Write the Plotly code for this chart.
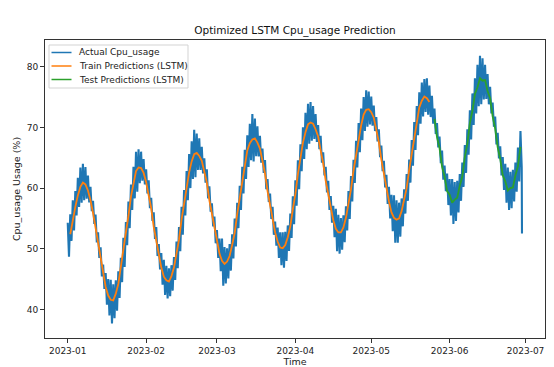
import pandas as pd
import plotly.graph_objects as go

# ---- data (day offsets from 2023-01-01) ----
actual_center = [
    51.5, 53.5, 55.5, 57.5, 59.3, 60.5, 61.0, 60.85, 59.85, 58.2,
    56.0, 53.35, 50.6, 47.85, 45.4, 43.4, 42.0, 41.3, 41.35, 42.3,
    44.1, 46.5, 49.4, 52.5, 55.6, 58.5, 60.9, 62.7, 63.6, 63.6,
    62.7, 61.1, 59.0, 56.5, 53.8, 51.2, 48.7, 46.7, 45.3, 44.5,
    44.5, 45.2, 46.75, 49.0, 51.6, 54.6, 57.6, 60.4, 62.8, 64.6,
    65.7, 66.0, 65.6, 64.6, 62.9, 60.7, 58.2, 55.6, 53.1, 50.8,
    49.0, 47.8, 47.3, 47.6, 48.6, 50.4, 52.7, 55.5, 58.4, 61.3,
    63.9, 66.1, 67.6, 68.3, 68.35, 67.7, 66.4, 64.5, 62.2, 59.6,
    57.0, 54.6, 52.5, 51.0, 50.0, 49.8, 50.4, 51.75, 53.8, 56.35,
    59.2, 62.2, 65.0, 67.4, 69.4, 70.6, 71.0, 70.8, 69.9, 68.4,
    66.4, 64.0, 61.4, 58.8, 56.5, 54.5, 53.1, 52.4, 52.45, 53.3,
    55.0, 57.2, 59.9, 62.75, 65.6, 68.3, 70.5, 72.2, 73.1, 73.2,
    72.7, 71.5, 69.7, 67.4, 64.9, 62.3, 59.8, 57.6, 55.9, 54.9,
    54.5, 54.8, 56.0, 57.8, 60.1, 62.8, 65.8, 68.6, 71.1, 73.2,
    74.6, 75.25, 75.1, 74.3, 72.9, 71.0, 68.7, 66.3, 63.8, 61.6,
    59.8, 58.5, 57.8, 57.8, 58.6, 60.1, 62.2, 64.8, 67.6, 70.4,
    73.0, 75.2, 76.9, 77.8, 78.0, 77.5, 76.3, 74.5, 72.1, 69.5,
    67.0, 64.5, 62.4, 60.8, 59.9, 59.7, 60.4, 61.8, 63.9, 66.4,
]
# half-width of the noisy blue band, per day
actual_spread = [
    2.8, 2.2, 2.5, 2.0, 2.4, 2.9, 3.0, 2.6, 2.2, 2.0,
    1.9, 2.3, 2.1, 2.4, 2.0, 2.6, 3.0, 3.6, 2.8, 2.5,
    2.2, 2.0, 2.4, 1.9, 2.2, 2.1, 2.6, 3.3, 2.8, 2.4,
    2.1, 2.0, 2.3, 1.9, 2.2, 2.4, 2.1, 2.6, 2.9, 2.7,
    2.3, 2.1, 1.9, 2.2, 2.0, 2.3, 2.1, 2.4, 2.8, 3.1,
    3.9, 3.0, 2.6, 2.2, 2.0, 2.4, 2.1, 1.9, 2.2, 2.3,
    2.7, 3.9, 3.0, 2.5, 2.2, 2.0, 2.3, 2.1, 2.0, 2.2,
    2.4, 2.6, 3.0, 3.9, 3.1, 2.5, 2.2, 2.0, 2.4, 1.9,
    2.1, 2.3, 2.0, 2.5, 2.7, 2.9, 2.4, 2.1, 2.0, 2.3,
    2.1, 2.4, 2.2, 2.6, 3.0, 3.3, 3.2, 2.7, 2.3, 2.0,
    2.2, 1.9, 2.1, 2.4, 2.2, 2.6, 3.5, 3.2, 2.6, 2.2,
    2.0, 2.3, 2.1, 1.9, 2.2, 2.4, 2.6, 2.8, 3.0, 2.7,
    2.4, 2.1, 2.0, 2.3, 2.1, 2.2, 2.4, 2.6, 3.0, 3.9,
    3.5, 2.8, 2.3, 2.0, 2.2, 1.9, 2.1, 2.3, 2.4, 2.6,
    2.8, 2.7, 3.0, 2.6, 2.3, 2.1, 2.0, 2.2, 2.4, 2.1,
    2.6, 3.0, 3.7, 3.2, 2.6, 2.2, 2.0, 2.3, 2.1, 2.4,
    2.6, 2.9, 3.4, 4.0, 3.4, 2.8, 2.5, 2.2, 2.0, 2.3,
    2.1, 2.4, 2.7, 3.2, 3.5, 3.0, 2.6, 2.4, 2.8, 3.0,
]
actual_last_day = 179.6
actual_last_value = 52.5

train_start_day = 1
train_pred = [
    52.4, 54.8, 56.9, 58.8, 60.2, 60.9, 60.6, 59.6, 58.0,
    55.9, 53.5, 50.7, 48.1, 45.6, 43.7, 42.3, 41.6, 41.5, 42.6,
    44.2, 46.8, 49.5, 52.7, 55.4, 58.6, 60.7, 62.8, 63.4, 63.3,
    62.5, 61.0, 58.8, 56.7, 53.6, 51.4, 48.9, 46.9, 45.4, 44.8,
    44.6, 45.5, 46.9, 49.2, 51.5, 54.8, 57.4, 60.5, 62.6, 64.4,
    65.6, 65.8, 65.3, 64.5, 62.7, 60.9, 58.0, 55.8, 53.0, 51.1,
    49.2, 48.0, 47.5, 47.9, 48.8, 50.6, 52.6, 55.7, 58.2, 61.4,
    63.7, 66.2, 67.4, 68.0, 68.2, 67.5, 66.5, 64.3, 62.4, 59.5,
    57.2, 54.5, 52.7, 51.2, 50.2, 50.1, 50.6, 51.9, 53.7, 56.5,
    59.0, 62.3, 64.8, 67.5, 69.2, 70.5, 70.8, 70.6, 69.7, 68.5,
    66.2, 64.1, 61.2, 59.0, 56.4, 54.7, 53.3, 52.7, 52.7, 53.5,
    55.1, 57.4, 59.8, 62.9, 65.4, 68.4, 70.3, 72.1, 72.9, 73.0,
    72.5, 71.6, 69.5, 67.6, 64.7, 62.5, 59.7, 57.8, 56.0, 55.1,
    54.8, 55.0, 56.2, 57.9, 60.0, 63.0, 65.6, 68.7, 70.9, 73.3,
    74.4, 75.1, 74.8, 74.2,
]

test_start_day = 145
test_pred = [
    71.4, 68.4, 66.6, 63.5, 61.9,
    59.5, 58.9, 57.6, 58.1, 58.4, 60.4, 61.9, 65.1, 67.3, 70.7,
    72.7, 75.5, 76.6, 78.1, 77.7, 77.8, 76.0, 74.8, 71.8, 69.8,
    66.7, 64.8, 62.1, 61.1, 59.6, 60.0, 60.1, 62.1, 63.6, 66.8,
]

x_tick_values = ["2023-01-01", "2023-02-01", "2023-03-01", "2023-04-01",
                 "2023-05-01", "2023-06-01", "2023-07-01"]
x_tick_labels = ["2023-01", "2023-02", "2023-03", "2023-04",
                 "2023-05", "2023-06", "2023-07"]
y_tick_values = [40, 50, 60, 70, 80]

# ---- build series ----
origin = pd.Timestamp("2023-01-01")


def to_time(days):
    return origin + pd.to_timedelta(days, unit="D")


# each day: the noisy band swings between its upper and lower edge
act_days, act_vals = [], []
for i, (c, s) in enumerate(zip(actual_center, actual_spread)):
    act_days += [i, i + 0.5]
    act_vals += [c + s, c - s]
act_days.append(actual_last_day)
act_vals.append(actual_last_value)

train_days = [train_start_day + i for i in range(len(train_pred))]
test_days = [test_start_day + i for i in range(len(test_pred))]

BLUE, ORANGE, GREEN = "#1f77b4", "#ff7f0e", "#2ca02c"

fig = go.Figure()
fig.add_trace(go.Scatter(x=[to_time(d) for d in act_days], y=act_vals, mode="lines",
                         name="Actual Cpu_usage", line=dict(color=BLUE, width=2.1)))
fig.add_trace(go.Scatter(x=[to_time(d) for d in train_days], y=train_pred, mode="lines",
                         name="Train Predictions (LSTM)", line=dict(color=ORANGE, width=1.8)))
fig.add_trace(go.Scatter(x=[to_time(d) for d in test_days], y=test_pred, mode="lines",
                         name="Test Predictions (LSTM)", line=dict(color=GREEN, width=1.8)))

# plot area in pixels: x 37..537, y 32..330
L, R, T, B = 37, 537, 32, 330


def px(xp):
    return (xp - L) / (R - L)


def py(yp):
    return (B - yp) / (B - T)


shapes = [dict(type="rect", xref="paper", yref="paper",
               x0=px(41), x1=px(180), y0=py(80), y1=py(37),
               line=dict(color="#d3d3d3", width=1), fillcolor="rgba(255,255,255,0.85)",
               layer="above")]
annotations = []
for name, col, yy in [("Actual Cpu_usage", BLUE, 44.5),
                      ("Train Predictions (LSTM)", ORANGE, 58),
                      ("Test Predictions (LSTM)", GREEN, 71.5)]:
    shapes.append(dict(type="line", xref="paper", yref="paper",
                       x0=px(43.5), x1=px(63.5), y0=py(yy), y1=py(yy),
                       line=dict(color=col, width=1.5), layer="above"))
    annotations.append(dict(text=name, xref="paper", yref="paper",
                            x=px(69), y=py(yy), xanchor="left", yanchor="middle",
                            showarrow=False, font=dict(size=9, color="#222")))

axis_common = dict(showline=True, linecolor="#333", linewidth=1, mirror=True,
                   ticks="outside", ticklen=4, tickcolor="#333", tickwidth=1,
                   showgrid=False, zeroline=False, automargin=False,
                   tickfont=dict(size=9, color="#222"))

fig.update_layout(
    width=554, height=367,
    margin=dict(l=L, r=554 - R, t=T, b=367 - B),
    paper_bgcolor="white", plot_bgcolor="white",
    font=dict(family="DejaVu Sans", size=9, color="#222"),
    showlegend=False,
    title=dict(text="Optimized LSTM Cpu_usage Prediction", x=0.5, xref="paper",
               y=1 - 22.5 / 367, yref="container", xanchor="center", yanchor="middle",
               font=dict(size=10.5, color="#111")),
    xaxis=dict(type="date", range=["2022-12-23 00:20", "2023-07-08 16:50"],
               tickmode="array", tickvals=x_tick_values, ticktext=x_tick_labels,
               title=dict(text="Time", standoff=3, font=dict(size=9.5)),
               **axis_common),
    yaxis=dict(range=[35.3, 84.4], tickmode="array", tickvals=y_tick_values,
               title=dict(text="Cpu_usage Usage (%)", standoff=4, font=dict(size=9.5)),
               **axis_common),
    shapes=shapes, annotations=annotations,
)

fig.write_html("out.html")
